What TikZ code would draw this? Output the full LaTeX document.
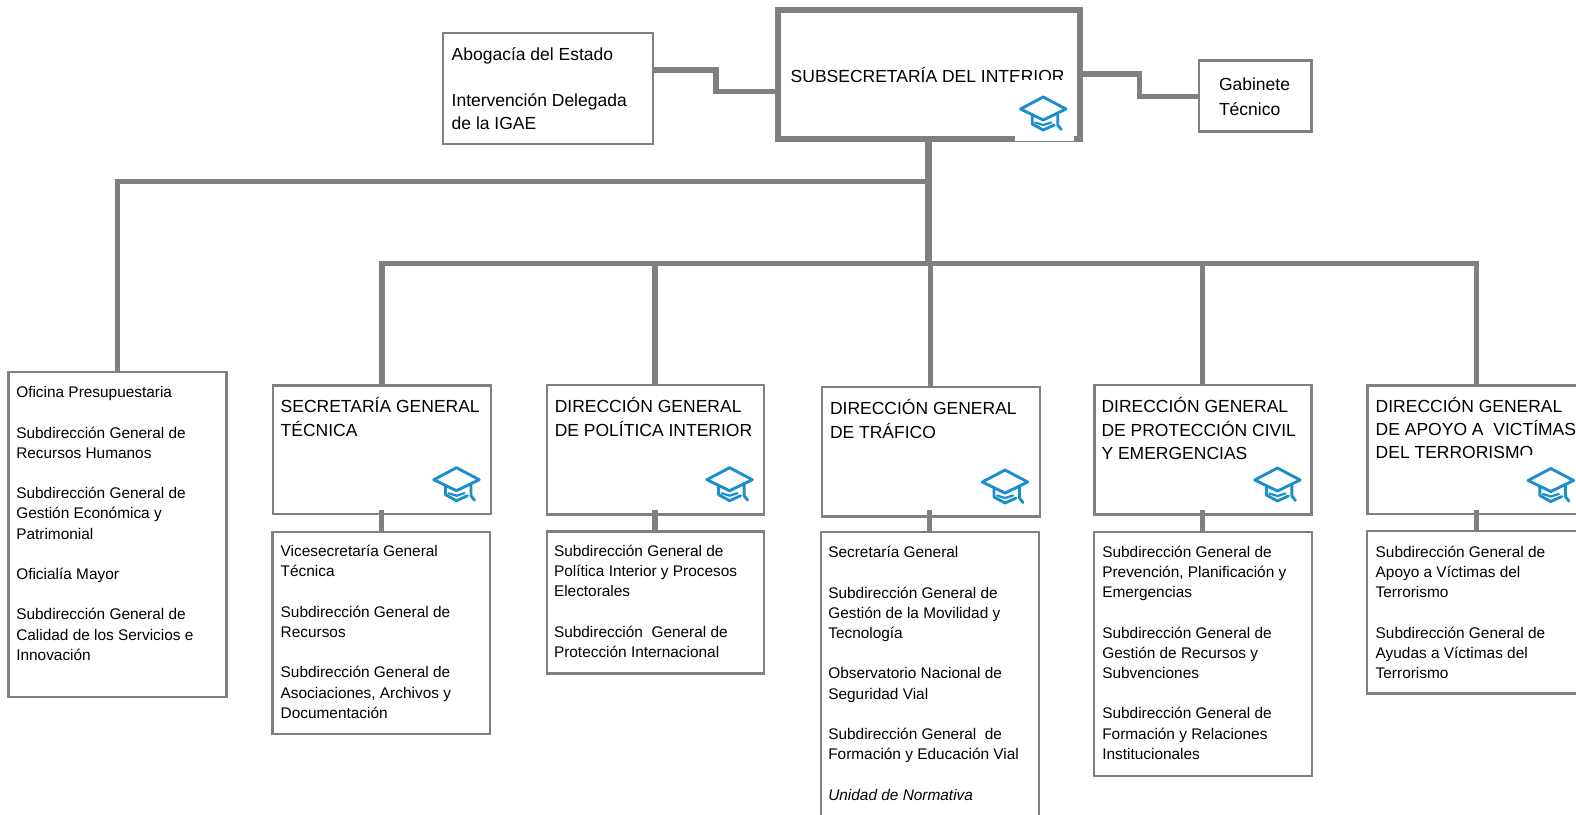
\documentclass[tikz,border=0pt]{standalone}
\usepackage{fontspec}
\setmainfont{Liberation Sans}
\definecolor{framegrey}{HTML}{808080}
\definecolor{capblue}{HTML}{1B8FCB}
\newcommand{\bodysize}{\fontsize{15.4}{20.2}\selectfont}
\newcommand{\titlesize}{\fontsize{17.5}{23.3}\selectfont}
\newcommand{\gap}{\\[20.2pt]}
\tikzset{
  frame/.style={draw=framegrey,line width=2.4pt,fill=white,rectangle,inner sep=0pt,outer sep=0pt},
  bigframe/.style={frame,line width=6pt},
  link/.style={draw=framegrey,line width=5.5pt},
  trunk/.style={draw=framegrey,line width=6.5pt},
  bodytext/.style={anchor=north west,inner sep=0pt,outer sep=0pt,align=left,text=black,font=\bodysize},
  titletext/.style={anchor=north west,inner sep=0pt,outer sep=0pt,align=left,text=black,font=\titlesize},
  patch/.style={fill=white,draw=none,rectangle,inner sep=0pt,outer sep=0pt},
  capline/.style={capblue,line width=2.9pt,line join=round,line cap=round},
  pics/gradcap/.style={code={
    \draw[capline,fill=white]
      (-22.7,0) -- (0,-12) -- (22.7,0) -- (0,11) -- cycle;
    \draw[capline]
      (-11,6) -- (-11,15) -- (0,21) -- (11,16);
    \draw[capline,line width=2.2pt]
      (-8,13.5) -- (0,16) -- (8,13.5);
    \draw[capline]
      (14.5,5) -- (14.5,16) -- (18,20.5);
  }}
}
\newcommand{\mkbox}[6][frame]{%
  \node[#1,minimum width={(#5-#3)*1pt},minimum height={(#6-#4)*1pt}] (#2) at ({(#3+#5)/2},{(#4+#6)/2}) {};}
\newcommand{\body}[4]{\node[bodytext] (#1) at (#2,{#3-14.14-0.7}) {\strut #4};}
\newcommand{\titl}[4]{\node[titletext] (#1) at (#2,{#3-16.31}) {\strut #4};}
\begin{document}
\begin{tikzpicture}[x=1pt,y=-1pt]
\useasboundingbox (0,0) rectangle (1576,814);
\clip (0,0) rectangle (1576,814);
\fill[white] (0,0) rectangle (1576,814);
% boxes
\mkbox[bigframe]{sub}{777.5}{10.3}{1080}{138.6}
\mkbox{abo}{443}{33}{653}{144}
\mkbox{gab}{1199}{60.3}{1311.5}{131.6}
\mkbox{ofi}{8.5}{371.7}{226.5}{696.7}
\mkbox{sec}{272.7}{385.3}{490.7}{514}
\mkbox{secb}{272.3}{532}{490}{734}
\mkbox{pol}{546.7}{385}{763.8}{514.6}
\mkbox{polb}{546.7}{531.6}{763.8}{673.3}
\mkbox{tra}{822}{387}{1040}{516.5}
\mkbox{trab}{820.7}{531.7}{1038.7}{840}
\mkbox{pro}{1094.5}{385}{1311.5}{514.6}
\mkbox{prob}{1094}{531.7}{1312}{775.7}
\mkbox{vic}{1367.3}{385.3}{1600}{514}
\mkbox{vicb}{1367}{531}{1600}{693.5}
% bus coordinates
\coordinate (busA) at (928.3,181.7);
\coordinate (busB) at (928.3,263.5);
\coordinate (busO) at (117.5,181.7);
% connectors
\draw[trunk] (sub.south -| busA) -- (busB);
\draw[link] (busA) -- (busO) -- (ofi.north -| busO);
\draw[link] (busB) -- (382,263.5) coordinate (busL) -- (sec.north -| busL);
\draw[link] (busB) -- (1476.5,263.5) coordinate (busR) -- (vic.north -| busR);
\coordinate (polx) at (655.2,263.5);
\coordinate (trax) at (930.4,263.5);
\coordinate (prox) at (1202.7,263.5);
\draw[link] (polx) -- (pol.north -| polx);
\draw[link] (trax) -- (tra.north -| trax);
\draw[link] (prox) -- (pro.north -| prox);
\coordinate (absecx) at (381.7,509.5);
\draw[link] (absecx) -- (secb.north -| absecx);
\coordinate (abpolx) at (655.2,509.5);
\draw[link] (abpolx) -- (polb.north -| abpolx);
\coordinate (abtrax) at (929.3,509.5);
\draw[link] (abtrax) -- (trab.north -| abtrax);
\coordinate (abprox) at (1202.7,509.5);
\draw[link] (abprox) -- (prob.north -| abprox);
\coordinate (abvicx) at (1476.3,509.5);
\draw[link] (abvicx) -- (vicb.north -| abvicx);
\coordinate (abbend) at (716,70);
\draw[link] (abo.east |- abbend) -- (abbend) -- (716,91.7) -- (sub.west |- 716,91.7);
\coordinate (gabbend) at (1139.7,74);
\draw[link] (sub.east |- gabbend) -- (gabbend) -- (1139.7,96.5) -- (gab.west |- 1139.7,96.5);
% texts
\titl{subt}{790.7}{82.7}{SUBSECRETARÍA DEL INTERIOR}
\titl{abot}{451.7}{60}{Abogacía del Estado\\[23pt]Intervención Delegada\\de la IGAE}
\titl{gabt}{1219}{90.5}{Gabinete\\[1.7pt]Técnico}
\body{ofit}{16.3}{398.3}{Oficina Presupuestaria\gap Subdirección General de\\Recursos Humanos\gap Subdirección General de\\Gestión Económica y\\Patrimonial\gap Oficialía Mayor\gap Subdirección General de\\Calidad de los Servicios e\\Innovación}
\titl{sect}{280.7}{412.7}{SECRETARÍA GENERAL\\TÉCNICA}
\body{secbt}{280.7}{557.3}{Vicesecretaría General\\Técnica\gap Subdirección General de\\Recursos\gap Subdirección General de\\Asociaciones, Archivos y\\Documentación}
\titl{polt}{554.8}{412.7}{DIRECCIÓN GENERAL\\DE POLÍTICA INTERIOR}
\body{polbt}{554}{557}{Subdirección General de\\Política Interior y Procesos\\Electorales\gap Subdirección\ \ General de\\Protección Internacional}
\titl{trat}{830}{414.7}{DIRECCIÓN GENERAL\\DE TRÁFICO}
\body{trabt}{828.3}{558.3}{Secretaría General\gap Subdirección General de\\Gestión de la Movilidad y\\Tecnología\gap Observatorio Nacional de\\Seguridad Vial\gap Subdirección General\ \ de\\Formación y Educación Vial\gap \textit{Unidad de Normativa}}
\titl{prot}{1101.5}{412.7}{DIRECCIÓN GENERAL\\DE PROTECCIÓN CIVIL\\Y EMERGENCIAS}
\body{probt}{1102.3}{558}{Subdirección General de\\Prevención, Planificación y\\Emergencias\gap Subdirección General de\\Gestión de Recursos y\\Subvenciones\gap Subdirección General de\\Formación y Relaciones\\Institucionales}
\titl{vict}{1375.7}{412.3}{DIRECCIÓN GENERAL\\DE APOYO A\ \ VICTÍMAS\\DEL TERRORISMO}
\body{vicbt}{1375.7}{558}{Subdirección General de\\Apoyo a Víctimas del\\Terrorismo\gap Subdirección General de\\Ayudas a Víctimas del\\Terrorismo}
% icon backgrounds, which cover part of the text and of the frame
\node[patch,minimum width=59pt,minimum height=60.7pt] (subpatch) at (1044.5,110.35) {};
\node[patch,minimum width=54pt,minimum height=50pt] (vicpatch) at (1549,480) {};
% icons
\pic at (1043.2,109) {gradcap};
\pic at (456.5,479.7) {gradcap};
\pic at (729.6,479.7) {gradcap};
\pic at (1005,482) {gradcap};
\pic at (1277.4,480) {gradcap};
\pic at (1550.8,480.5) {gradcap};
\end{tikzpicture}
\end{document}
